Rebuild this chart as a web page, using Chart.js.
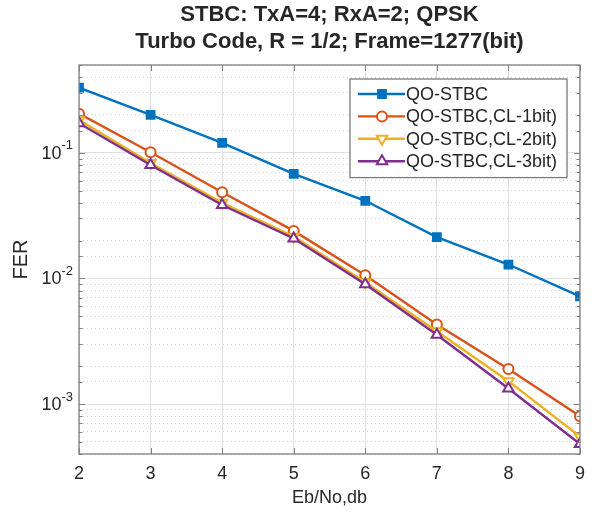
<!DOCTYPE html>
<html lang="en">
<head>
<meta charset="UTF-8">
<title>STBC FER - Turbo Code</title>
<script src="https://cdn.jsdelivr.net/npm/chart.js"></script>
<style>
  html, body { margin: 0; padding: 0; background: #fff; }
  #wrap { width: 594px; height: 515px; }
</style>
</head>
<body>
<div id="wrap"><canvas id="fer" width="594" height="515"></canvas></div>
<script>
// data
const ebNo = [2, 3, 4, 5, 6, 7, 8, 9];
const ferQoStbc = [0.33, 0.2, 0.12, 0.068, 0.0415, 0.0213, 0.0129, 0.0072];
const ferCl1 = [0.205, 0.101, 0.0485, 0.0239, 0.0106, 0.0043, 0.0019, 0.0008];
const ferCl2 = [0.182, 0.083, 0.040, 0.0215, 0.0093, 0.0038, 0.00152, 0.00055];
const ferCl3 = [0.172, 0.080, 0.0384, 0.0208, 0.0090, 0.00356, 0.00133, 0.00048];
const seriesNames = ['QO-STBC', 'QO-STBC,CL-1bit)', 'QO-STBC,CL-2bit)', 'QO-STBC,CL-3bit)'];
const yDecades = [0.1, 0.01, 0.001];
const yDecadeExp = ['-1', '-2', '-3'];
const titleLines = ['STBC: TxA=4; RxA=2; QPSK', 'Turbo Code, R = 1/2; Frame=1277(bit)'];

const FONT = "'Liberation Sans', Arial, Helvetica, sans-serif";
const colors = ['#0072BD', '#D95319', '#EDB120', '#7E2F8E'];
const markers = ['rect', 'circle', 'triangle', 'triangle'];
const markerRot = [0, 0, 180, 0];
const markerRad = [5.5, 5, 6, 6];
const markerFilled = [true, false, false, false];
const axisColor = '#808080';
const textColor = '#262626';
const majorGrid = '#e0e0e0';
const minorGrid = '#d2d2d2';

const isDecade = v => Math.abs(Math.log10(v) - Math.round(Math.log10(v))) < 1e-6;

const datasets = [ferQoStbc, ferCl1, ferCl2, ferCl3].map((vals, i) => ({
    label: seriesNames[i],
    data: vals.map((v, j) => ({ x: ebNo[j], y: v })),
    borderColor: colors[i],
    backgroundColor: colors[i],
    borderWidth: 2.4,
    pointStyle: markers[i],
    pointRotation: markerRot[i],
    pointRadius: markerRad[i],
    pointBorderWidth: 2,
    pointBorderColor: colors[i],
    pointBackgroundColor: markerFilled[i] ? colors[i] : '#ffffff',
    tension: 0,
    fill: false,
    order: 3 - i
}));

const decoPlugin = {
    id: 'matlabDeco',
    afterDraw(chart) {
        const ctx = chart.ctx;
        const a = chart.chartArea;
        const xs = chart.scales.x, ys = chart.scales.y;
        ctx.save();

        // inside ticks
        ctx.strokeStyle = axisColor;
        ctx.lineWidth = 1;
        ctx.beginPath();
        ys.ticks.forEach(t => {
            const py = Math.round(ys.getPixelForValue(t.value)) + 0.5;
            const len = isDecade(t.value) ? 6 : 3.5;
            ctx.moveTo(a.left, py); ctx.lineTo(a.left + len, py);
            ctx.moveTo(a.right, py); ctx.lineTo(a.right - len, py);
        });
        xs.ticks.forEach(t => {
            const px = Math.round(xs.getPixelForValue(t.value)) + 0.5;
            ctx.moveTo(px, a.bottom); ctx.lineTo(px, a.bottom - 6);
            ctx.moveTo(px, a.top); ctx.lineTo(px, a.top + 6);
        });
        ctx.stroke();

        // axes box
        ctx.lineWidth = 1.3;
        ctx.strokeRect(a.left, a.top, a.right - a.left, a.bottom - a.top);

        // y decade labels 10^n
        ctx.fillStyle = textColor;
        yDecades.forEach((v, i) => {
            const py = ys.getPixelForValue(v);
            ctx.font = '13px ' + FONT;
            const ew = ctx.measureText(yDecadeExp[i]).width;
            ctx.textBaseline = 'middle';
            ctx.textAlign = 'right';
            const xr = a.left - 6;
            ctx.fillText(yDecadeExp[i], xr, py - 7);
            ctx.font = '18px ' + FONT;
            ctx.fillText('10', xr - ew, py + 1);
        });

        // title
        ctx.font = 'bold 22px ' + FONT;
        ctx.textAlign = 'center';
        ctx.textBaseline = 'middle';
        const cx = (a.left + a.right) / 2;
        ctx.fillText(titleLines[0], cx, a.top - 50);
        ctx.fillText(titleLines[1], cx, a.top - 23);

        // legend
        ctx.font = '18px ' + FONT;
        const right = a.right - 13;
        const top = a.top + 14;
        const rowH = 22.4;
        const left = right - 217;
        const h = rowH * chart.data.datasets.length + 9;
        ctx.fillStyle = '#ffffff';
        ctx.fillRect(left, top, right - left, h);
        ctx.strokeStyle = '#7a7a7a';
        ctx.lineWidth = 1.3;
        ctx.strokeRect(left, top, right - left, h);
        chart.data.datasets.forEach((d, i) => {
            const y = top + 15 + i * rowH;
            ctx.strokeStyle = d.borderColor;
            ctx.lineWidth = d.borderWidth;
            ctx.beginPath();
            ctx.moveTo(left + 8, y); ctx.lineTo(left + 55, y);
            ctx.stroke();
            ctx.fillStyle = d.pointBackgroundColor;
            ctx.lineWidth = d.pointBorderWidth;
            Chart.helpers.drawPoint(ctx, {
                pointStyle: d.pointStyle, rotation: d.pointRotation,
                radius: d.pointRadius, borderWidth: d.pointBorderWidth
            }, left + 32, y);
            ctx.fillStyle = textColor;
            ctx.textAlign = 'left';
            ctx.textBaseline = 'middle';
            ctx.fillText(d.label, left + 56, y + 1);
        });
        ctx.restore();
    }
};

new Chart(document.getElementById('fer'), {
    type: 'line',
    data: { datasets: datasets },
    options: {
        responsive: false,
        animation: false,
        layout: { padding: { top: 65, right: 9, left: 0, bottom: 0 } },
        plugins: {
            legend: { display: false },
            title: { display: false },
            tooltip: { enabled: false }
        },
        scales: {
            x: {
                type: 'linear',
                min: 2, max: 9,
                afterFit: s => { s.height = 61; },
                ticks: { stepSize: 1, color: textColor, padding: 9, font: { size: 18, family: FONT } },
                grid: { color: majorGrid, lineWidth: 1, drawTicks: false },
                border: { display: false },
                title: {
                    display: true, text: 'Eb/No,db', color: textColor,
                    font: { size: 18, family: FONT }, padding: { top: 0, bottom: 6 }
                }
            },
            y: {
                type: 'logarithmic',
                min: 4e-4, max: 0.5,
                afterFit: s => { s.width = 79; },
                ticks: { display: false, autoSkip: false },
                grid: {
                    drawTicks: false, lineWidth: 1,
                    color: c => (c.tick && isDecade(c.tick.value)) ? majorGrid : minorGrid
                },
                border: {
                    display: false,
                    dash: c => (c.tick && !isDecade(c.tick.value)) ? [1, 3] : []
                },
                title: {
                    display: true, text: 'FER', color: textColor,
                    font: { size: 20, family: FONT }, padding: { top: 9, bottom: 0 }
                }
            }
        }
    },
    plugins: [decoPlugin]
});
</script>
</body>
</html>
